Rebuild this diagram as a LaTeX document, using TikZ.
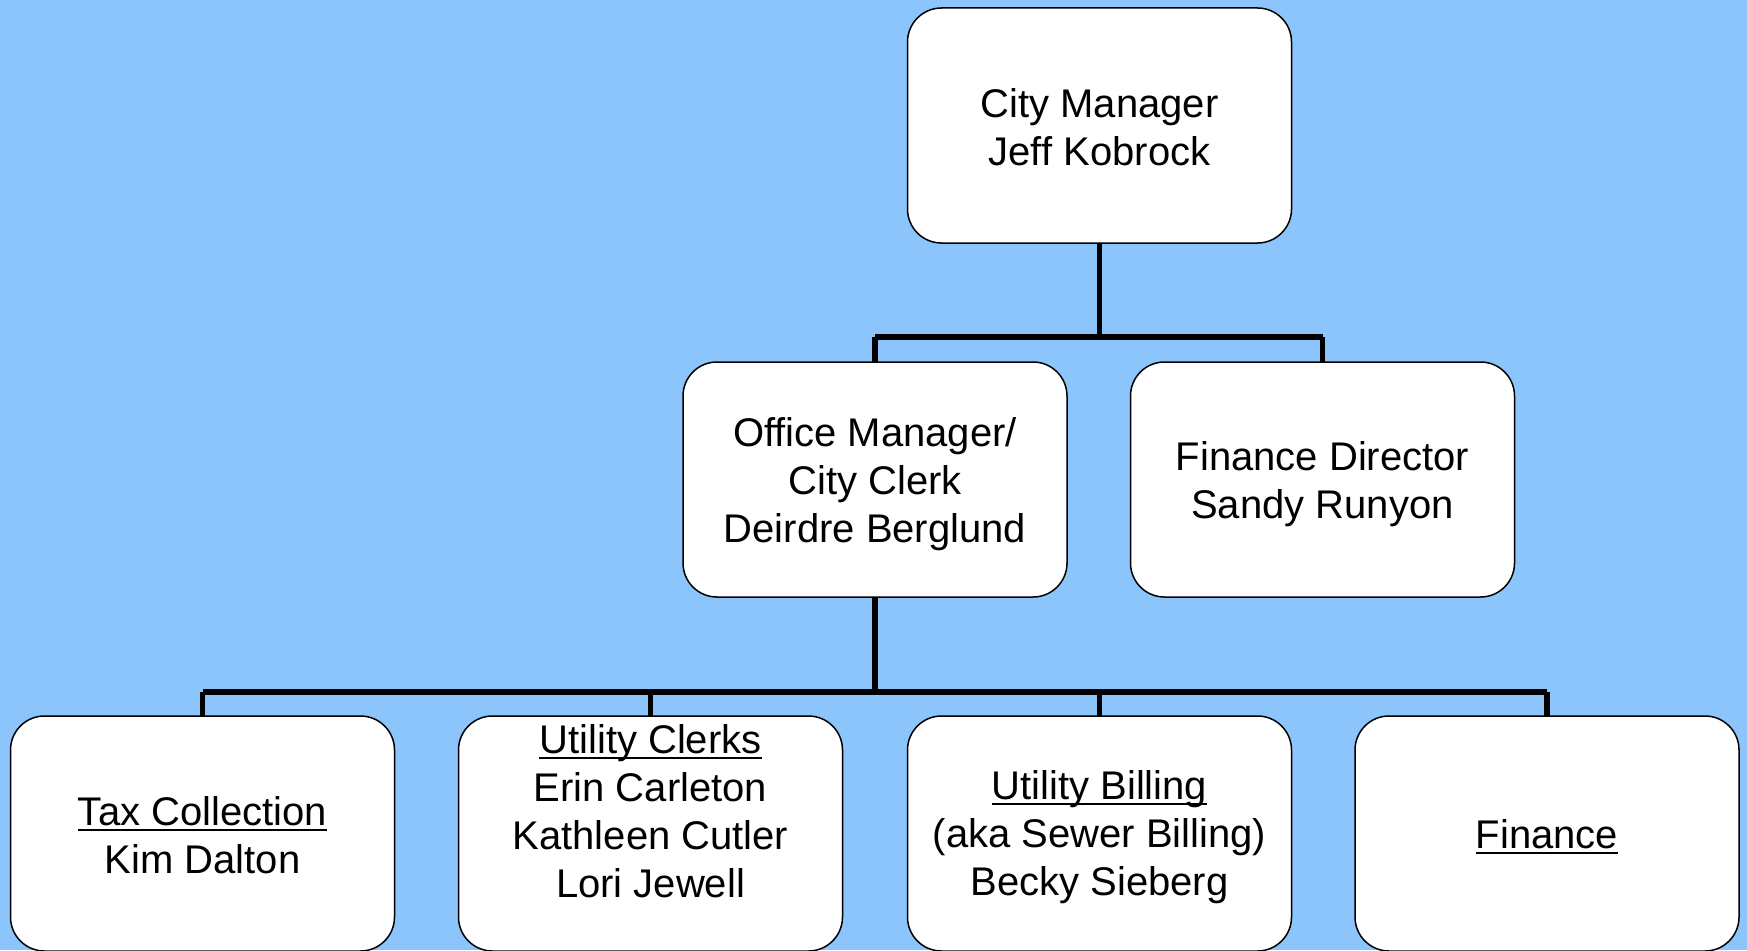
\documentclass[tikz,border=0pt]{standalone}
\usepackage{fontspec}
\setmainfont{Liberation Sans}
\definecolor{bgblue}{RGB}{140,196,252}
\newcommand{\ulx}[1]{\setbox0\hbox{#1}\rlap{\rule[-5.5pt]{\wd0}{2pt}}\box0}
\begin{document}
\begin{tikzpicture}[x=1pt,y=-1pt,
  orgbox/.style={draw=black,line width=1.5pt,fill=white,rounded corners=34pt,
    minimum width=384pt,minimum height=235pt,inner sep=0pt},
  orgtext/.style={align=center,inner sep=0pt,font=\fontsize{40}{48}\selectfont},
  conn/.style={draw=black,line width=5.5pt}]
\useasboundingbox (0,0) rectangle (1747,950);
\fill[bgblue] (0,0) rectangle (1747,950);
% connectors first (behind boxes)
\coordinate (cmS) at (1099.5,243);
\coordinate (omS) at (875,597);
\coordinate (j1) at (1099.5,337);
\coordinate (j2) at (875,692);
\draw[conn] (cmS) -- (j1);
\draw[conn] (875,337) -- (1322.5,337);
\draw[conn] (875,337) -- (875,362);
\draw[conn] (1322.5,337) -- (1322.5,362);
\draw[conn] (omS) -- (j2);
\draw[conn] (202.5,692) -- (1547,692);
\foreach \xx in {202.5,650.5,1099.5,1547}{\draw[conn] (\xx,692) -- (\xx,716);}
% boxes
\node[orgbox] (cm) at (1099.5,125.5) {};
\node[orgbox] (om) at (875,479.5) {};
\node[orgbox] (fd) at (1322.5,479.5) {};
\node[orgbox] (tc) at (202.5,833.5) {};
\node[orgbox] (uc) at (650.5,833.5) {};
\node[orgbox] (ub) at (1099.5,833.5) {};
\node[orgbox] (fi) at (1547,833.5) {};
% texts
\node[orgtext] (cmt) at ([yshift=-2pt]cm.center) {City Manager\\Jeff Kobrock};
\node[orgtext] (omt) at ([yshift=-5pt]om.center) {Office Manager/\\City Clerk\\Deirdre Berglund};
\node[orgtext] (fdt) at ([yshift=-5pt]fd.center) {Finance Director\\Sandy Runyon};
\node[orgtext] (tct) at ([yshift=-2pt]tc.center) {\ulx{Tax Collection}\\Kim Dalton};
\node[orgtext] (uct) at (650.5,811) {\ulx{Utility Clerks}\\Erin Carleton\\Kathleen Cutler\\Lori Jewell};
\node[orgtext] (ubt) at ([yshift=-4pt]ub.center) {\ulx{Utility Billing}\\(aka Sewer Billing)\\Becky Sieberg};
\node[orgtext] (fit) at ([yshift=-3pt]fi.center) {\ulx{Finance}};
\end{tikzpicture}
\end{document}
